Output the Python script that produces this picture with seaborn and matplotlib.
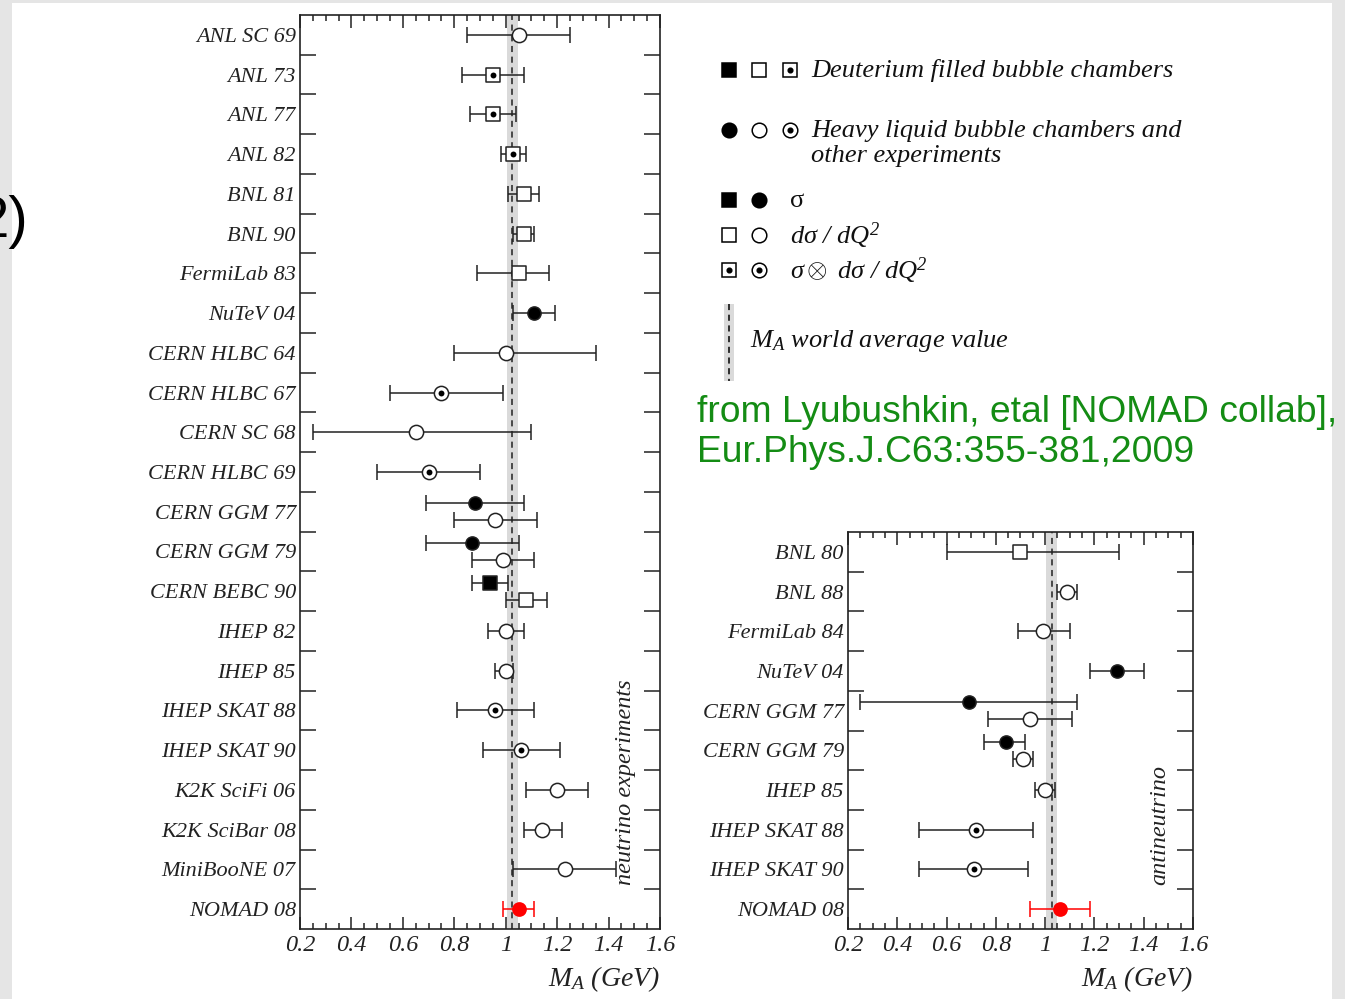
import numpy as np
import pandas as pd
import matplotlib
matplotlib.use("Agg")
import matplotlib.pyplot as plt
import seaborn as sns
from matplotlib.patches import Rectangle
from matplotlib.ticker import MultipleLocator, FixedLocator

# ---------------- data ----------------
world_avg = 1.026
world_avg_err = 0.021

nu_labels = ["ANL SC 69", "ANL 73", "ANL 77", "ANL 82", "BNL 81", "BNL 90",
             "FermiLab 83", "NuTeV 04", "CERN HLBC 64", "CERN HLBC 67",
             "CERN SC 68", "CERN HLBC 69", "CERN GGM 77", "CERN GGM 79",
             "CERN BEBC 90", "IHEP 82", "IHEP 85", "IHEP SKAT 88",
             "IHEP SKAT 90", "K2K SciFi 06", "K2K SciBar 08", "MiniBooNE 07",
             "NOMAD 08"]
nu_row = [0, 1, 2, 3, 4, 5, 6, 7, 8, 9, 10, 11, 12, 12, 13, 13, 14, 14,
          15, 16, 17, 18, 19, 20, 21, 22]
nu_sub = [0, 0, 0, 0, 0, 0, 0, 0, 0, 0, 0, 0, -1, 1, -1, 1, -1, 1,
          0, 0, 0, 0, 0, 0, 0, 0]
nu_val = [1.05, 0.95, 0.95, 1.03, 1.07, 1.07, 1.05, 1.11, 1.00, 0.75,
          0.65, 0.70, 0.88, 0.96, 0.87, 0.99, 0.94, 1.08, 1.00, 1.00,
          0.96, 1.06, 1.20, 1.14, 1.23, 1.05]
nu_lo = [0.85, 0.83, 0.86, 0.98, 1.01, 1.03, 0.89, 1.03, 0.80, 0.55,
         0.25, 0.50, 0.69, 0.80, 0.69, 0.87, 0.87, 1.00, 0.93, 0.96,
         0.81, 0.91, 1.08, 1.07, 1.03, 0.99]
nu_hi = [1.25, 1.07, 1.04, 1.08, 1.13, 1.11, 1.17, 1.19, 1.35, 0.99,
         1.10, 0.90, 1.07, 1.12, 1.05, 1.11, 1.01, 1.16, 1.07, 1.03,
         1.11, 1.21, 1.32, 1.22, 1.43, 1.11]
nu_shape = ["o", "s", "s", "s", "s", "s", "s", "o", "o", "o", "o", "o",
            "o", "o", "o", "o", "s", "s", "o", "o", "o", "o", "o", "o",
            "o", "o"]
nu_kind = ["open", "dot", "dot", "dot", "open", "open", "open", "filled",
           "open", "dot", "open", "dot", "filled", "open", "filled", "open",
           "filled", "open", "open", "open", "dot", "dot", "open", "open",
           "open", "red"]

anu_labels = ["BNL 80", "BNL 88", "FermiLab 84", "NuTeV 04", "CERN GGM 77",
              "CERN GGM 79", "IHEP 85", "IHEP SKAT 88", "IHEP SKAT 90",
              "NOMAD 08"]
anu_row = [0, 1, 2, 3, 4, 4, 5, 5, 6, 7, 8, 9]
anu_sub = [0, 0, 0, 0, -1, 1, -1, 1, 0, 0, 0, 0]
anu_val = [0.90, 1.09, 0.99, 1.29, 0.69, 0.94, 0.84, 0.91, 1.00, 0.72,
           0.71, 1.06]
anu_lo = [0.60, 1.05, 0.89, 1.18, 0.25, 0.77, 0.75, 0.87, 0.96, 0.49,
          0.49, 0.94]
anu_hi = [1.30, 1.13, 1.10, 1.40, 1.13, 1.11, 0.92, 0.95, 1.04, 0.95,
          0.93, 1.18]
anu_shape = ["s", "o", "o", "o", "o", "o", "o", "o", "o", "o", "o", "o"]
anu_kind = ["open", "open", "open", "filled", "filled", "open", "filled",
            "open", "open", "dot", "dot", "red"]

x_ticks = [0.2, 0.4, 0.6, 0.8, 1.0, 1.2, 1.4, 1.6]
x_tick_labels = ["0.2", "0.4", "0.6", "0.8", "1", "1.2", "1.4", "1.6"]

# ---------------- style ----------------
sns.set_theme(style="white")
plt.rcParams["font.family"] = ["Liberation Serif", "DejaVu Serif"]
plt.rcParams["font.style"] = "italic"
plt.rcParams["mathtext.fontset"] = "custom"
plt.rcParams["mathtext.rm"] = "Liberation Serif"
plt.rcParams["mathtext.it"] = "Liberation Serif:italic"
plt.rcParams["mathtext.bf"] = "Liberation Serif:bold"

W, H = 1345, 999
fig = plt.figure(figsize=(W / 100, H / 100), dpi=100, facecolor="#e5e5e5")
fig.patches.append(Rectangle((12 / W, 0), (1332 - 12) / W, (H - 3) / H,
                             transform=fig.transFigure, facecolor="white",
                             edgecolor="none", zorder=-10))

EDGE = "#222222"
FACE = {"filled": "black", "open": "white", "dot": "white", "red": "red"}


def px_axes(x0, y0, x1, y1):
    return fig.add_axes([x0 / W, 1 - y1 / H, (x1 - x0) / W, (y1 - y0) / H])


def draw_panel(ax, labels, rows, sub, val, lo, hi, shape, kind, side_text,
               side_y, label_off):
    df = pd.DataFrame(dict(row=rows, sub=sub, val=val, lo=lo, hi=hi,
                           shape=shape, kind=kind))
    df["y"] = df["row"] + 0.21 * df["sub"]
    n = len(labels)
    ax.set_facecolor("white")
    ax.axvspan(world_avg - world_avg_err, world_avg + world_avg_err,
               color="#dadada", lw=0, zorder=0)
    ax.axvline(world_avg, color=EDGE, ls=(0, (4, 3)), lw=1.1, zorder=1)

    for is_red, col in [(False, EDGE), (True, "red")]:
        d = df[(df["kind"] == "red") == is_red]
        ax.errorbar(d["val"], d["y"],
                    xerr=[d["val"] - d["lo"], d["hi"] - d["val"]],
                    fmt="none", ecolor=col, elinewidth=1.1, capsize=5.5,
                    capthick=1.1, zorder=2)

    for shp in ["s", "o"]:
        for k in ["filled", "open", "dot", "red"]:
            d = df[(df["shape"] == shp) & (df["kind"] == k)]
            if len(d) == 0:
                continue
            sz = 90 if k in ("filled", "red") else 105
            sns.scatterplot(data=d, x="val", y="y", marker=shp, s=sz,
                            color=FACE[k],
                            edgecolor="red" if k == "red" else EDGE,
                            linewidth=1.1, ax=ax, zorder=3, legend=False)
    d = df[df["kind"] == "dot"]
    sns.scatterplot(data=d, x="val", y="y", marker="o", s=18, color="black",
                    edgecolor="black", linewidth=0, ax=ax, zorder=4,
                    legend=False)

    ax.set_xlim(0.2, 1.6)
    ax.set_ylim(n - 0.5, -0.5)
    ax.set_yticks(range(n))
    ax.set_yticklabels(labels, fontstyle="italic", fontsize=16,
                       color="#222222")
    ax.yaxis.set_minor_locator(FixedLocator(np.arange(0.5, n - 0.5, 1.0)))
    ax.set_xticks(x_ticks)
    ax.set_xticklabels(x_tick_labels, fontstyle="italic", fontsize=17.5,
                       color="#222222")
    ax.xaxis.set_minor_locator(MultipleLocator(0.05))
    ax.tick_params(axis="y", which="major", length=0, pad=3,
                   left=True, right=False)
    ax.tick_params(axis="y", which="minor", length=11.5, width=1.1,
                   direction="in", left=True, right=True, color=EDGE)
    ax.tick_params(axis="x", which="major", length=9, width=1.1,
                   direction="in", top=True, bottom=True, pad=4, color=EDGE)
    ax.tick_params(axis="x", which="minor", length=4.5, width=1.1,
                   direction="in", top=True, bottom=True, color=EDGE)
    for sp in ax.spines.values():
        sp.set_visible(True)
        sp.set_color(EDGE)
        sp.set_linewidth(1.2)
    ax.set_xlabel(r"$M_A$ (GeV)", fontsize=20, color="#222222", ha="right",
                  va="center", fontstyle="italic")
    ax.xaxis.set_label_coords(1.0, label_off)
    ax.set_ylabel("")
    ax.text(0.903, side_y, side_text, transform=ax.transAxes, rotation=90,
            ha="center", va="center", fontsize=17.5, color="#222222")


ax1 = px_axes(300, 15, 660, 929)
draw_panel(ax1, nu_labels, nu_row, nu_sub, nu_val, nu_lo, nu_hi, nu_shape,
           nu_kind, "neutrino experiments", 0.161, -50 / 914)

ax2 = px_axes(848, 532, 1193, 929)
draw_panel(ax2, anu_labels, anu_row, anu_sub, anu_val, anu_lo, anu_hi,
           anu_shape, anu_kind, "antineutrino", 0.262, -50 / 397)

# ---------------- legend / annotations overlay ----------------
lax = fig.add_axes([0, 0, 1, 1])
lax.set_xlim(0, W)
lax.set_ylim(H, 0)
lax.axis("off")
lax.patch.set_visible(False)


def lmark(x, y, shp, k, size=10.5):
    lax.plot([x], [y], marker=shp, ms=size, mfc=FACE[k], mec="black",
             mew=1.1, ls="none")
    if k == "dot":
        lax.plot([x], [y], marker="o", ms=3.4, mfc="black", mec="black",
                 ls="none")


lmark(729, 70, "s", "filled"); lmark(759, 70, "s", "open"); lmark(790, 70, "s", "dot")
lmark(729, 130, "o", "filled"); lmark(759, 130, "o", "open"); lmark(790, 130, "o", "dot")
lmark(729, 200, "s", "filled"); lmark(759, 200, "o", "filled")
lmark(729, 235, "s", "open"); lmark(759, 235, "o", "open")
lmark(729, 270, "s", "dot"); lmark(759, 270, "o", "dot")

tkw = dict(fontsize=19, color="#111111", va="center", ha="left")
lax.text(811, 71, "Deuterium filled bubble chambers", **tkw)
lax.text(811, 131, "Heavy liquid bubble chambers and", **tkw)
lax.text(811, 156, "other experiments", **tkw)
lax.text(790, 201, "σ", fontsize=19, color="#111111", va="center",
         ha="left", style="normal")
lax.text(790, 236, r"d$\mathrm{\sigma}$ / dQ$^2$", **tkw)
lax.text(790, 271, r"$\mathrm{\sigma}\otimes$ d$\mathrm{\sigma}$ / dQ$^2$", **tkw)

lax.add_patch(Rectangle((724, 304), 10, 77, facecolor="#dadada",
                        edgecolor="none"))
lax.plot([729, 729], [304, 381], color="black", ls=(0, (4, 3)), lw=1.1)
lax.text(750, 341, r"$M_A$ world average value", **tkw)

gkw = dict(fontsize=26.8, color="#148c14", va="center", ha="left",
           family="Liberation Sans", style="normal")
lax.text(697, 412, "from Lyubushkin, etal [NOMAD collab],", **gkw)
lax.text(697, 453, "Eur.Phys.J.C63:355-381,2009", **gkw)

lax.text(28, 222, "2)", fontsize=42, color="black", va="center", ha="right",
         family="Liberation Sans", style="normal")

fig.savefig("out.png", dpi=100, facecolor=fig.get_facecolor())
